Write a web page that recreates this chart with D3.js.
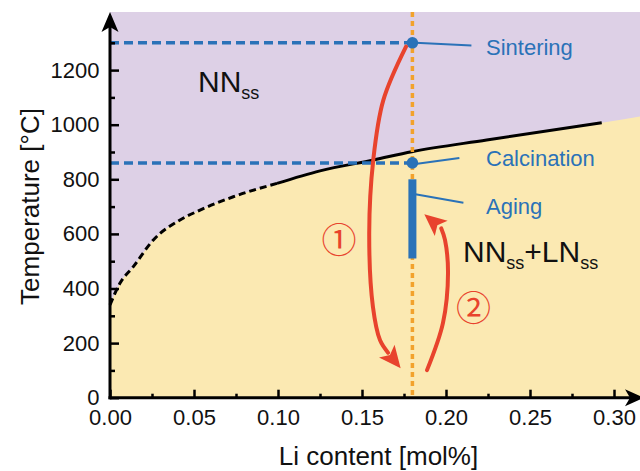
<!DOCTYPE html>
<html>
<head>
<meta charset="utf-8">
<script src="https://cdn.jsdelivr.net/npm/d3@7"></script>
<style>
  html, body { margin: 0; padding: 0; background: #fff; }
  svg { display: block; font-family: "Liberation Sans", Arial, sans-serif; }
</style>
</head>
<body>
<svg id="chart" width="640" height="471"></svg>
<script>
// Phase boundary between NNss and NNss+LNss (Li content in mol%, temperature in °C)
const boundaryDashedLi = [0, 0.006, 0.0139, 0.0258, 0.0417, 0.0536, 0.0734, 0.0994];
const boundaryDashedT  = [340, 420, 480, 578, 651, 687, 736, 785];
const boundarySolidLi  = [0.0994, 0.125, 0.157, 0.1796, 0.2242, 0.2927];
const boundarySolidT   = [785, 831, 871, 901, 944, 1007];
const boundaryEdgeLi   = [0.3155];
const boundaryEdgeT    = [1030];

// Processing route at the chosen composition
const compositionLi = 0.18;
const processNames  = ["Sintering", "Calcination"];
const processT      = [1300, 860];
const agingRangeT   = [510, 800];

// Route arrows ① (cooling) and ② (aging)
const arrow1Li = [0.1762, 0.1627, 0.1567, 0.1543, 0.1565, 0.1607, 0.1655];
const arrow1T  = [1286, 1090, 871, 603, 333, 211, 165];
const arrow1Tip = [0.1730, 108];
const arrow2Li = [0.1887, 0.1982, 0.2012, 0.1994, 0.1972];
const arrow2T  = [101, 274, 457, 578, 620];
const arrow2Tip = [0.1871, 672];
const stepLabels = ["①", "②"];
const stepLi = [0.1363, 0.2164];
const stepT  = [585, 336];

// Axis ticks
const xTicks = [0, 0.05, 0.10, 0.15, 0.20, 0.25, 0.30];
const xMinor = [0.025, 0.075, 0.125, 0.175, 0.225, 0.275];
const yTicks = [0, 200, 400, 600, 800, 1000, 1200];
const yMinor = [100, 300, 500, 700, 900, 1100, 1300];

const C = {
  purple: "#ddd0e6", yellow: "#fbe9b2", blue: "#2a72b8",
  orange: "#f2a22c", red: "#e8432d", black: "#000"
};

const svg = d3.select("#chart");
const x = d3.scaleLinear().domain([0, 0.30]).range([110, 614]);
const y = d3.scaleLinear().domain([0, 1200]).range([397.7, 70.1]);
const xMax = x.invert(640), yMax = y.invert(12);

// Background regions
svg.append("rect")
  .attr("x", x(0)).attr("y", y(yMax))
  .attr("width", x(xMax) - x(0)).attr("height", y(0) - y(yMax))
  .attr("fill", C.purple);

const bLi = boundaryDashedLi.concat(boundarySolidLi.slice(1), boundaryEdgeLi);
const bT  = boundaryDashedT.concat(boundarySolidT.slice(1), boundaryEdgeT);
const bPts = bLi.map((v, i) => [v, bT[i]]);

svg.append("path")
  .datum(bPts)
  .attr("fill", C.yellow)
  .attr("d", d3.area().x(d => x(d[0])).y0(y(0)).y1(d => y(d[1])).curve(d3.curveMonotoneX));

// Boundary lines
const bLine = d3.line().x(d => x(d[0])).y(d => y(d[1])).curve(d3.curveMonotoneX);
svg.append("path")
  .datum(boundaryDashedLi.map((v, i) => [v, boundaryDashedT[i]]))
  .attr("fill", "none").attr("stroke", C.black).attr("stroke-width", 3)
  .attr("stroke-dasharray", "7,4").attr("d", bLine);
svg.append("path")
  .datum(boundarySolidLi.map((v, i) => [v, boundarySolidT[i]]))
  .attr("fill", "none").attr("stroke", C.black).attr("stroke-width", 3)
  .attr("d", bLine);

// Horizontal guide lines for process temperatures
svg.selectAll(".guide").data(processT).join("line")
  .attr("x1", x(0)).attr("x2", x(compositionLi))
  .attr("y1", d => y(d)).attr("y2", d => y(d))
  .attr("stroke", C.blue).attr("stroke-width", 3.5).attr("stroke-dasharray", "9,5");

// Vertical composition line
svg.append("line")
  .attr("x1", x(compositionLi)).attr("x2", x(compositionLi))
  .attr("y1", y(yMax)).attr("y2", y(0))
  .attr("stroke", C.orange).attr("stroke-width", 3.5).attr("stroke-dasharray", "5,4");

// Aging bar
svg.append("rect")
  .attr("x", x(compositionLi) - 4).attr("width", 8)
  .attr("y", y(agingRangeT[1])).attr("height", y(agingRangeT[0]) - y(agingRangeT[1]))
  .attr("fill", C.blue);

// Process points
svg.selectAll(".pt").data(processT).join("circle")
  .attr("cx", x(compositionLi)).attr("cy", d => y(d)).attr("r", 5.8)
  .attr("fill", C.blue);

// Leader lines and labels
const cx = x(compositionLi);
const leaders = [
  { name: processNames[0], y0: y(processT[0]), y1: y(processT[0]) + 2.6, x1: cx + 59, ty: y(processT[0]) + 12.6 },
  { name: processNames[1], y0: y(processT[1]) + 1, y1: y(processT[1]) - 5, x1: cx + 47, ty: y(processT[1]) + 2.7 },
  { name: "Aging", y0: y(agingRangeT[1]) + 15, y1: y(agingRangeT[1]) + 23.4, x1: cx + 51, ty: y(agingRangeT[1]) + 34.7 }
];
svg.selectAll(".leader").data(leaders).join("line")
  .attr("x1", cx + 3).attr("x2", d => d.x1)
  .attr("y1", d => d.y0).attr("y2", d => d.y1)
  .attr("stroke", C.blue).attr("stroke-width", 2);
svg.selectAll(".plabel").data(leaders).join("text")
  .attr("x", 486).attr("y", d => d.ty)
  .attr("font-size", 22).attr("fill", C.blue)
  .text(d => d.name);

// Route arrows
const shaft = d3.line().x(d => x(d[0])).y(d => y(d[1])).curve(d3.curveCatmullRom);
function drawArrow(li, t, tip) {
  const pts = li.map((v, i) => [v, t[i]]);
  svg.append("path").datum(pts)
    .attr("fill", "none").attr("stroke", C.red).attr("stroke-width", 4)
    .attr("stroke-linecap", "round").attr("d", shaft);
  const b = pts[pts.length - 1];
  const bx = x(b[0]), by = y(b[1]), tx = x(tip[0]), ty = y(tip[1]);
  const dx = tx - bx, dy = ty - by, L = Math.hypot(dx, dy);
  const ux = dx / L, uy = dy / L, hw = 10;
  const px = -uy, py = ux;
  const bx0 = tx - ux * 22, by0 = ty - uy * 22;
  const nx = tx - ux * 17, ny = ty - uy * 17;
  svg.append("path")
    .attr("d", `M${tx},${ty}L${bx0 + px * hw},${by0 + py * hw}L${nx},${ny}L${bx0 - px * hw},${by0 - py * hw}Z`)
    .attr("fill", C.red);
}
drawArrow(arrow1Li, arrow1T, arrow1Tip);
drawArrow(arrow2Li, arrow2T, arrow2Tip);

svg.selectAll(".step").data(stepLabels).join("text")
  .attr("x", (d, i) => x(stepLi[i])).attr("y", (d, i) => y(stepT[i]))
  .attr("text-anchor", "middle").attr("dominant-baseline", "central")
  .attr("font-family", "'Noto Sans CJK SC', sans-serif")
  .attr("font-size", 35).attr("fill", C.red)
  .text(d => d);

// Phase labels
const nn = svg.append("text").attr("x", 198).attr("y", 91.7).attr("font-size", 30).attr("fill", "#111");
nn.append("tspan").text("NN");
nn.append("tspan").attr("font-size", 18).attr("dy", 7.6).text("ss");

const mix = svg.append("text").attr("x", 463).attr("y", 261.7).attr("font-size", 30).attr("fill", "#111");
mix.append("tspan").text("NN");
mix.append("tspan").attr("font-size", 18).attr("dy", 7.6).text("ss");
mix.append("tspan").attr("dy", -7.6).text("+LN");
mix.append("tspan").attr("font-size", 18).attr("dy", 7.6).text("ss");

// Axes
const axG = svg.append("g");
const xAxis = axG.append("g").attr("transform", `translate(0,${y(0)})`)
  .call(d3.axisBottom(x).tickValues(xTicks).tickFormat(d3.format(".2f")).tickSize(-8).tickPadding(12));
const xAxisMinor = axG.append("g").attr("transform", `translate(0,${y(0)})`)
  .call(d3.axisBottom(x).tickValues(xMinor).tickFormat("").tickSize(-4));
const yAxis = axG.append("g").attr("transform", `translate(${x(0)},0)`)
  .call(d3.axisLeft(y).tickValues(yTicks).tickFormat(d3.format("d")).tickSize(-9).tickPadding(10.5));
const yAxisMinor = axG.append("g").attr("transform", `translate(${x(0)},0)`)
  .call(d3.axisLeft(y).tickValues(yMinor).tickFormat("").tickSize(-5));
[xAxis, xAxisMinor, yAxis, yAxisMinor].forEach(g => {
  g.select(".domain").remove();
  g.selectAll(".tick line").attr("stroke", C.black).attr("stroke-width", 2.5);
  g.selectAll("text").attr("font-size", 22).attr("fill", "#111")
    .attr("font-family", "'Liberation Sans', Arial, sans-serif");
});

// Axis lines with arrowheads
axG.append("line").attr("x1", x(0) - 1.5).attr("x2", 632).attr("y1", y(0)).attr("y2", y(0))
  .attr("stroke", C.black).attr("stroke-width", 3);
axG.append("line").attr("x1", x(0)).attr("x2", x(0)).attr("y1", y(0) + 1.5).attr("y2", 24)
  .attr("stroke", C.black).attr("stroke-width", 3);
const yx = y(0);
axG.append("path").attr("fill", C.black)
  .attr("d", `M644,${yx}L625,${yx - 8.5}L630,${yx}L625,${yx + 8.5}Z`);
axG.append("path").attr("fill", C.black)
  .attr("d", `M110,12L101.5,32L110,27L118.5,32Z`);

// Axis titles
svg.append("text").attr("x", 378.5).attr("y", 465).attr("text-anchor", "middle")
  .attr("font-size", 26).attr("fill", "#111").text("Li content [mol%]");
svg.append("text").attr("transform", "translate(39,206.5) rotate(-90)")
  .attr("text-anchor", "middle").attr("font-size", 26).attr("fill", "#111")
  .text("Temperature [°C]");
</script>
</body>
</html>
